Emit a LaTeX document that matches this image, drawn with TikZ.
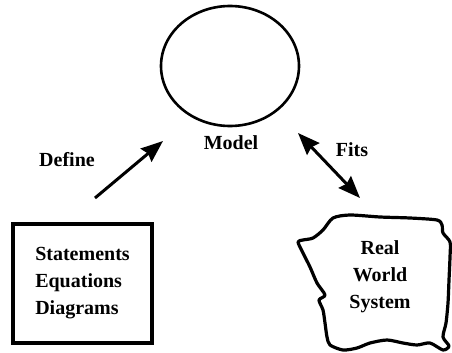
\documentclass[tikz,border=0pt]{standalone}
\usepackage{fontspec}
\setmainfont{Liberation Serif}
\usetikzlibrary{arrows.meta, positioning, shapes.geometric}
\definecolor{ink}{HTML}{000000}
\tikzset{
  font=\fontsize{20}{27}\selectfont\bfseries,
  >={Stealth[length=22pt, width=17pt, inset=2.5pt]},
  %
  modelshape/.style={draw=ink, line width=2.6pt, ellipse, minimum width=138pt,
                     minimum height=120pt, inner sep=0pt},
  boxs/.style={draw=ink, line width=3.5pt, minimum width=139pt,
               minimum height=119pt, align=left},
  blob/.style={draw=ink, line width=3.2pt, line join=round},
  %
  link/.style={draw=ink, line width=3pt, ->},
  linkboth/.style={link, <->},
  %
  lbl/.style={text=ink, inner sep=1pt},
  blobtext/.style={text=ink, align=center, inner sep=0pt},
}

\begin{document}
\begin{tikzpicture}[x=1pt, y=-1pt]

  \useasboundingbox (0,0) rectangle (452,353);

  % the model
  \node[modelshape] (model) at (230,66) {};
  \node[lbl] (modellbl) at (231,143) {Model};

  % what the model is made of
  \node[boxs] (stmt) at (82.5,283.5) {Statements\\Equations\\Diagrams};

  % the real world
  \draw[blob] plot[smooth cycle, tension=0.45] coordinates {
    (333,218) (350,215) (380,217) (410,218) (437,220) (442,225)
    (443,233) (450,242) (450,257) (449,280) (448,303) (446,323)
    (443,337) (449,346) (443,350) (430,343) (417,345) (403,343)
    (387,340) (370,343) (357,348) (343,350) (330,345) (327,337)
    (325,323) (323,310) (319,300) (325,295) (317,283) (310,267)
    (303,253) (298,242) (303,240) (313,238) (323,230)};
  \node[blobtext] (rws) at (380,277) {Real\\World\\System};

  % connectors
  \coordinate (deftail) at (95,198);
  \coordinate (defhead) at (163,141);
  \draw[link] (deftail) -- (defhead);
  \node[lbl] (deflbl) at (67,160) {Define};

  \coordinate (fitsa) at (298,133);
  \coordinate (fitsb) at (360,198);
  \draw[linkboth] (fitsa) -- (fitsb);
  \node[lbl] (fitslbl) at (352,150) {Fits};

\end{tikzpicture}
\end{document}
